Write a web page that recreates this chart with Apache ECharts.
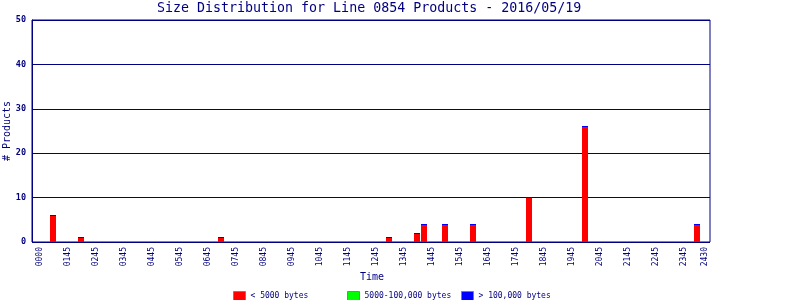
<!DOCTYPE html>
<html><head><meta charset="utf-8">
<script src="https://cdn.jsdelivr.net/npm/echarts@6/dist/echarts.min.js"></script>
<style>html,body{margin:0;padding:0;background:#fff}#c{width:800px;height:300px}</style>
</head><body><div id="c"></div>
<script>
const categories = [
  '0000','0100','0115','0130',
  '0145','0200','0215','0230','0245','0300','0315','0330','0345','0400','0415','0430',
  '0445','0500','0515','0530','0545','0600','0615','0630','0645','0700','0715','0730',
  '0745','0800','0815','0830','0845','0900','0915','0930','0945','1000','1015','1030',
  '1045','1100','1115','1130','1145','1200','1215','1230','1245','1300','1315','1330',
  '1345','1400','1415','1430','1445','1500','1515','1530','1545','1600','1615','1630',
  '1645','1700','1715','1730','1745','1800','1815','1830','1845','1900','1915','1930',
  '1945','2000','2015','2030','2045','2100','2115','2130','2145','2200','2215','2230',
  '2245','2300','2315','2330','2345','2400','2415','2430'
];
const tickLabels = ['0000','0145','0245','0345','0445','0545','0645','0745','0845','0945',
  '1045','1145','1245','1345','1445','1545','1645','1745','1845','1945','2045','2145',
  '2245','2345','2430'];
const barTimes     = ['0115','0215','0715','1315','1415','1430','1515','1615','1815','2015','2415'];
const lt5000       = [6, 1, 1, 1, 2, 4, 4, 4, 10, 26, 4];
const mid5000to100k= [0, 0, 0, 0, 0, 0, 0, 0, 0, 0, 0];
const gt100k       = [0, 0, 0, 0, 0, 0, 0, 0, 0, 0, 0];
const yMax = 50, yStep = 10;

const NAVY = '#000080';
const MONO = 'DejaVu Sans Mono';

function makeSeries(name, color, values, lowers) {
  const data = barTimes.map((t, k) => [categories.indexOf(t), lowers[k], lowers[k] + values[k]]);
  return {
    type: 'custom', name: name, coordinateSystem: 'cartesian2d',
    xAxisIndex: 0, yAxisIndex: 0,
    itemStyle: { color: color },
    encode: { x: 0, y: 2 },
    data: data,
    renderItem: function (params, api) {
      const i = api.value(0);
      const lo = api.coord([i, api.value(1)]);
      const hi = api.coord([i, api.value(2)]);
      const w = api.size([1, 0])[0];
      const left = lo[0] - w / 2;
      let top = hi[1], h = lo[1] - hi[1];
      if (h < 1) { top = Math.floor(hi[1]); h = 1; }
      return { type: 'rect', shape: { x: left, y: top, width: w - 1, height: h }, style: { fill: color } };
    }
  };
}
const base0 = lt5000.map(() => 0);
const base1 = lt5000.map((v, k) => v);
const base2 = lt5000.map((v, k) => v + mid5000to100k[k]);

const legendCommon = {
  icon: 'rect', itemWidth: 12, itemHeight: 9, padding: 0, top: 291,
  selectedMode: false,
  itemStyle: { borderColor: '#808080', borderWidth: 1 },
  textStyle: { fontFamily: MONO, fontSize: 8, color: NAVY }
};

const chart = echarts.init(document.getElementById('c'), null, { renderer: 'canvas' });
chart.setOption({
  animation: false,
  backgroundColor: '#fff',
  title: {
    text: 'Size Distribution for Line 0854 Products - 2016/05/19',
    left: 157, top: 2, padding: 0,
    textStyle: { fontFamily: MONO, fontSize: 13.3, fontWeight: 'normal', color: NAVY }
  },
  legend: [
    Object.assign({}, legendCommon, { left: 233, data: ['< 5000 bytes'] }),
    Object.assign({}, legendCommon, { left: 347, data: ['5000-100,000 bytes'] }),
    Object.assign({}, legendCommon, { left: 461, data: ['> 100,000 bytes'] })
  ],
  grid: [
    { left: 36, right: 92, top: 20, bottom: 58, containLabel: false, outerBoundsMode: 'none' },
    { left: 32, right: 90, top: 20, bottom: 58, containLabel: false, outerBoundsMode: 'none',
      show: true, borderColor: NAVY, borderWidth: 1, backgroundColor: 'transparent' }
  ],
  xAxis: [
    {
      type: 'category', gridIndex: 0, data: categories, boundaryGap: true,
      axisLine: { show: false }, axisTick: { show: false }, splitLine: { show: false },
      axisLabel: {
        rotate: 90, margin: 5, fontFamily: MONO, fontSize: 8, color: NAVY,
        interval: function (idx, val) { return tickLabels.indexOf(val) >= 0; }
      },
      name: 'Time', nameLocation: 'middle', nameGap: 30, nameMoveOverlap: false,
      nameTextStyle: { fontFamily: MONO, fontSize: 10, color: NAVY }
    },
    { type: 'value', gridIndex: 1, min: 0, max: 1, show: false }
  ],
  yAxis: [
    { type: 'value', gridIndex: 0, min: 0, max: yMax, interval: yStep, show: false },
    {
      type: 'value', gridIndex: 1, min: 0, max: yMax, interval: yStep,
      axisLine: { show: true, lineStyle: { color: NAVY, width: 1 } },
      axisTick: { show: false },
      splitLine: { show: true, lineStyle: { color: NAVY, width: 1 } },
      axisLabel: { margin: 6, fontFamily: MONO, fontSize: 8.5, fontWeight: 'bold', color: NAVY },
      name: '# Products', nameLocation: 'middle', nameGap: 20, nameMoveOverlap: false,
      nameTextStyle: { fontFamily: MONO, fontSize: 10, color: NAVY }
    }
  ],
  series: [
    makeSeries('< 5000 bytes', '#ff0000', lt5000, base0),
    makeSeries('5000-100,000 bytes', '#00ff00', mid5000to100k, base1),
    makeSeries('> 100,000 bytes', '#0000ff', gt100k, base2)
  ]
});
</script>
</body></html>
